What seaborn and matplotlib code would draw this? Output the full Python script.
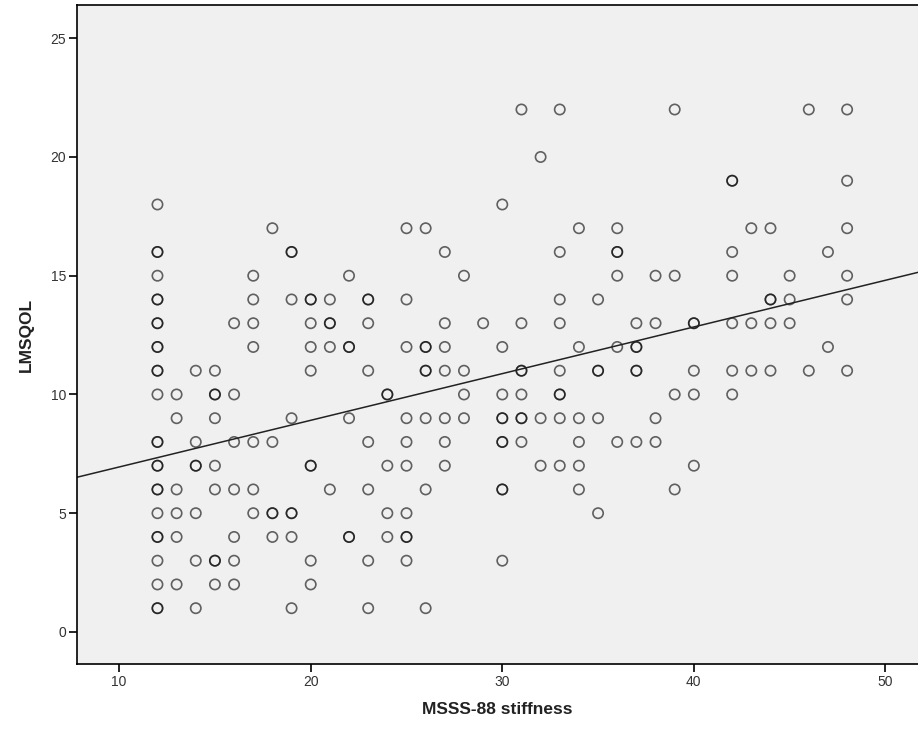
import numpy as np
import pandas as pd
import matplotlib
matplotlib.use("Agg")
import matplotlib.pyplot as plt
import seaborn as sns

# MSSS-88 stiffness value -> list of LMSQOL values (repeated values = overlapping points)
stiff_12 = [18, 16, 16, 15, 14, 14, 13, 13, 12, 12, 11, 11, 10, 8, 8, 7, 7, 6, 6, 5, 4, 4, 3, 2, 1, 1]
stiff_13 = [10, 9, 6, 5, 4, 2]
stiff_14 = [11, 8, 7, 7, 5, 3, 1]
stiff_15 = [11, 10, 10, 9, 7, 6, 3, 3, 2]
stiff_16 = [13, 10, 8, 6, 4, 3, 2]
stiff_17 = [15, 14, 13, 12, 8, 6, 5]
stiff_18 = [17, 8, 5, 5, 4]
stiff_19 = [16, 16, 14, 9, 5, 5, 4, 1]
stiff_20 = [14, 14, 13, 12, 11, 7, 7, 3, 2]
stiff_21 = [14, 13, 13, 12, 6]
stiff_22 = [15, 12, 12, 9, 4, 4]
stiff_23 = [14, 14, 13, 11, 8, 6, 3, 1]
stiff_24 = [10, 10, 7, 5, 4]
stiff_25 = [17, 14, 12, 9, 8, 7, 5, 4, 4, 3]
stiff_26 = [17, 12, 12, 11, 11, 9, 6, 1]
stiff_27 = [16, 13, 12, 11, 9, 8, 7]
stiff_28 = [15, 11, 10, 9]
stiff_29 = [13]
stiff_30 = [18, 12, 10, 9, 9, 8, 8, 6, 6, 3]
stiff_31 = [22, 13, 11, 11, 10, 9, 9, 8]
stiff_32 = [20, 9, 7]
stiff_33 = [22, 16, 14, 13, 11, 10, 10, 9, 7]
stiff_34 = [17, 12, 9, 8, 7, 6]
stiff_35 = [14, 11, 11, 9, 5]
stiff_36 = [17, 16, 16, 15, 12, 8]
stiff_37 = [13, 12, 12, 11, 11, 8]
stiff_38 = [15, 13, 9, 8]
stiff_39 = [22, 15, 10, 6]
stiff_40 = [13, 13, 11, 10, 7]
stiff_42 = [19, 19, 16, 15, 13, 11, 10]
stiff_43 = [17, 13, 11]
stiff_44 = [17, 14, 14, 13, 11]
stiff_45 = [15, 14, 13]
stiff_46 = [22, 11]
stiff_47 = [16, 12]
stiff_48 = [22, 19, 17, 15, 14, 11]

columns = {
    12: stiff_12, 13: stiff_13, 14: stiff_14, 15: stiff_15, 16: stiff_16,
    17: stiff_17, 18: stiff_18, 19: stiff_19, 20: stiff_20, 21: stiff_21,
    22: stiff_22, 23: stiff_23, 24: stiff_24, 25: stiff_25, 26: stiff_26,
    27: stiff_27, 28: stiff_28, 29: stiff_29, 30: stiff_30, 31: stiff_31,
    32: stiff_32, 33: stiff_33, 34: stiff_34, 35: stiff_35, 36: stiff_36,
    37: stiff_37, 38: stiff_38, 39: stiff_39, 40: stiff_40, 42: stiff_42,
    43: stiff_43, 44: stiff_44, 45: stiff_45, 46: stiff_46, 47: stiff_47,
    48: stiff_48,
}

x_ticks = [10, 20, 30, 40, 50]
y_ticks = [0, 5, 10, 15, 20, 25]

xs, ys = [], []
for k, vals in columns.items():
    for v in vals:
        xs.append(k)
        ys.append(v)
df = pd.DataFrame({"MSSS-88 stiffness": xs, "LMSQOL": ys})

sns.set_style("ticks")
plt.rcParams["font.family"] = ["Liberation Sans", "DejaVu Sans"]

W, H = 918, 733
fig = plt.figure(figsize=(W / 100, H / 100), dpi=100)
ax = fig.add_axes([77 / W, 1 - 664 / H, (918 - 77) / W, (664 - 5) / H])
ax.set_facecolor("#F0F0F0")
ax.set_xlim(7.8, 51.7)
ax.set_ylim(-1.35, 26.4)

sns.scatterplot(data=df, x="MSSS-88 stiffness", y="LMSQOL", ax=ax,
                marker="o", s=55, facecolor="none",
                edgecolor=(0, 0, 0, 0.6), linewidth=1.2, legend=False)
sns.regplot(data=df, x="MSSS-88 stiffness", y="LMSQOL", ax=ax, ci=None,
            scatter=False, truncate=False,
            line_kws={"color": "#222222", "linewidth": 1.1})

ax.set_xlim(7.8, 51.7)
ax.set_ylim(-1.35, 26.4)
ax.set_xticks(x_ticks)
ax.set_yticks(y_ticks)
ax.tick_params(direction="out", length=6, width=1.2, colors="#000000",
               labelcolor="#333333", labelsize=10, pad=2)
for side in ["left", "bottom", "top"]:
    ax.spines[side].set_color("#000000")
    ax.spines[side].set_linewidth(1.2)
ax.spines["top"].set_visible(True)
ax.spines["right"].set_visible(False)

ax.set_xlabel("MSSS-88 stiffness", fontsize=12.5, fontweight="bold",
              color="#222222", labelpad=9)
ax.set_ylabel("LMSQOL", fontsize=12.5, fontweight="bold",
              color="#222222", labelpad=12)

fig.savefig("out.png", dpi=100, facecolor="white")
